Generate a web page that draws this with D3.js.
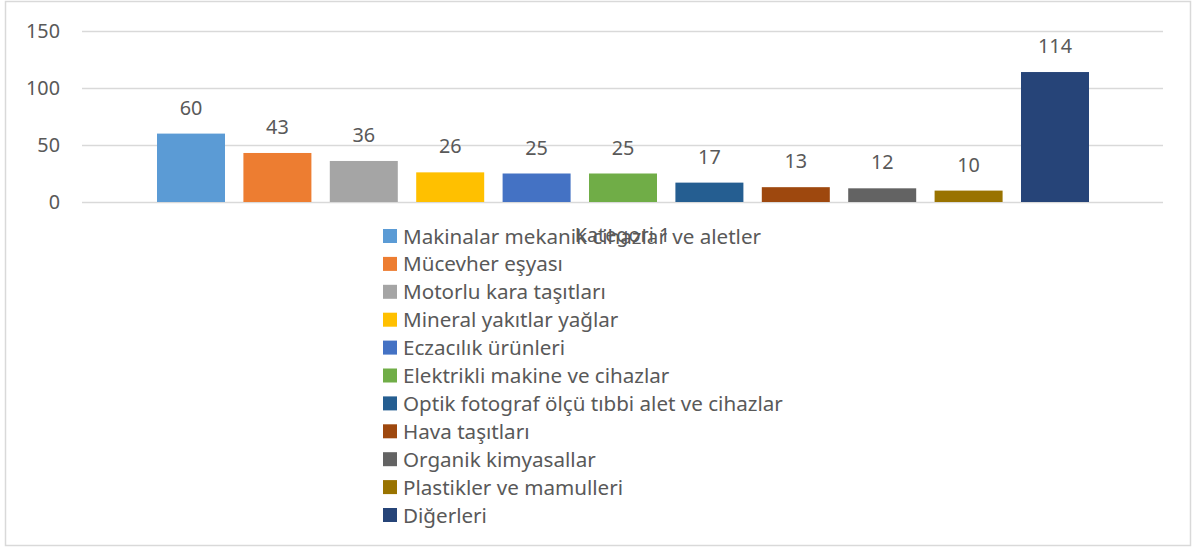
<!DOCTYPE html>
<html><head><meta charset="utf-8">
<script src="https://cdn.jsdelivr.net/npm/d3@7"></script>
<style>body{margin:0;background:#fff}svg{display:block}text{font-family:"Noto Sans",sans-serif;fill:#595959}</style>
</head><body><svg id="c" width="1192" height="548"></svg>
<script>
const categories = ["Kategori 1"];
const seriesNames = ["Makinalar mekanik cihazlar ve aletler","Mücevher eşyası","Motorlu kara taşıtları","Mineral yakıtlar yağlar","Eczacılık ürünleri","Elektrikli makine ve cihazlar","Optik fotograf ölçü tıbbi alet ve cihazlar","Hava taşıtları","Organik kimyasallar","Plastikler ve mamulleri","Diğerleri"];
const seriesValues = [60,43,36,26,25,25,17,13,12,10,114];
const seriesColors = ["#5B9BD5","#ED7D31","#A5A5A5","#FFC000","#4472C4","#70AD47","#255E91","#9E480E","#636363","#997300","#264478"];
const yTicks = [0,50,100,150];

const svg = d3.select("#c");
const fs = 19.8, lfs = 20.6;
svg.append("rect").attr("x",5.5).attr("y",1.5).attr("width",1185).attr("height",544)
  .attr("fill","#fff").attr("stroke","#d9d9d9").attr("stroke-width",1.5);

const plotL = 82, plotR = 1163;
const y = d3.scaleLinear().domain([0,150]).range([202,31]);
const xc = d3.scaleBand().domain(categories).range([plotL,plotR]);
const x = d3.scaleBand().domain(seriesNames).range([147.8,1098.2]).paddingInner(0.213).paddingOuter(0.1065);

const yAxis = d3.axisLeft(y).tickValues(yTicks).tickSize(-(plotR-plotL)).tickPadding(22);
const ga = svg.append("g").attr("transform",`translate(${plotL},0)`).call(yAxis);
ga.select(".domain").remove();
ga.selectAll(".tick line").attr("stroke","#d9d9d9").attr("stroke-width",1.3);
ga.selectAll(".tick text").attr("font-size",fs).attr("fill","#595959").attr("font-family","Noto Sans");

const g = svg.append("g");
g.selectAll("rect.bar").data(seriesValues).join("rect").attr("class","bar")
  .attr("x",(d,i)=>x(seriesNames[i])).attr("width",x.bandwidth())
  .attr("y",d=>y(d)).attr("height",d=>y(0)-y(d))
  .attr("fill",(d,i)=>seriesColors[i]);
g.selectAll("text.lbl").data(seriesValues).join("text").attr("class","lbl")
  .attr("x",(d,i)=>x(seriesNames[i])+x.bandwidth()/2).attr("y",d=>y(d)-19)
  .attr("text-anchor","middle").attr("font-size",fs).text(d=>d);

svg.append("text").attr("x",xc(categories[0])+xc.bandwidth()/2).attr("y",242)
  .attr("text-anchor","middle").attr("font-size",fs).text(categories[0]);

const lg = svg.append("g");
const rowH = 27.9, ly0 = 236;
seriesNames.forEach((n,i)=>{
  const cy = ly0 + i*rowH;
  lg.append("rect").attr("x",383).attr("y",cy-7).attr("width",14).attr("height",14).attr("fill",seriesColors[i]);
  lg.append("text").attr("x",403).attr("y",cy+7.5).attr("font-size",lfs).text(n);
});
</script></body></html>
